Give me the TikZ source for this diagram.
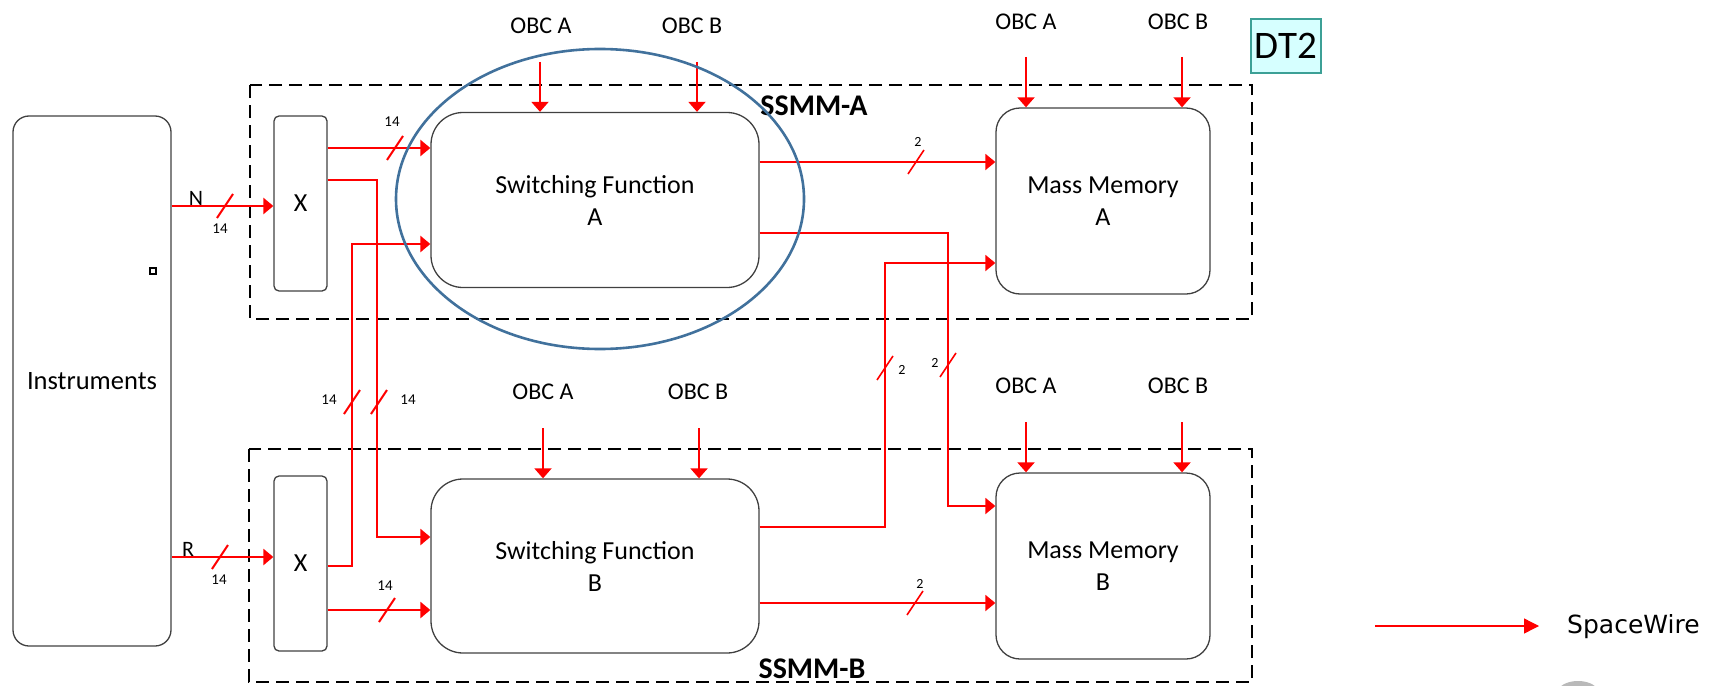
\documentclass[tikz,border=0pt]{standalone}
\usepackage{fontspec}
\setmainfont{Carlito}
\newfontfamily\legendfont{DejaVu Sans}
\usetikzlibrary{arrows.meta,calc}

\definecolor{ringblue}{RGB}{65,113,156}
\definecolor{dtfill}{RGB}{214,255,255}
\definecolor{dtedge}{RGB}{60,160,150}

% small bus-width tick across a wire, centred on (x,y)
\newcommand\busmark[3][tick]{\draw[#1] (#2-8,#3+12) -- (#2+8,#3-12);}

\begin{document}
\begin{tikzpicture}[x=1pt,y=-1pt,
  blk/.style={draw=black!75, line width=1.3pt, align=center, inner sep=0pt,
              font=\fontsize{26}{32}\selectfont},
  wire/.style={red, line width=2.5pt, -{Triangle[length=10pt,width=16pt]}},
  thinwire/.style={red, line width=2pt, -{Triangle[length=10pt,width=16pt]}},
  obcarrow/.style={red, line width=2pt, -{Triangle[length=10pt,width=17pt]}},
  tick/.style={red, line width=2pt},
  thintick/.style={red, line width=1.6pt},
  frame/.style={draw=black, line width=2pt, dash pattern=on 13pt off 7pt},
  wide/.style={font=\fontsize{15}{15}\selectfont, inner sep=0pt},
  narrow/.style={font=\fontsize{14}{14}\selectfont, inner sep=0pt},
  obc/.style={font=\fontsize{24}{24}\selectfont, inner sep=0pt, anchor=base},
  ssmm/.style={font=\bfseries\fontsize{30}{30}\selectfont, inner sep=0pt, anchor=base},
]
\useasboundingbox (0,0) rectangle (1712,685);

% SSMM frames
\draw[frame] (250,85) rectangle (1252,319);
\draw[frame] (249,449) rectangle (1252,682);
\node[ssmm] (ssmmA) at (814,115) {SSMM-A};
\node[ssmm] (ssmmB) at (812,678) {SSMM-B};

% blocks
\node[blk, rounded corners=16pt, minimum width=158pt, minimum height=530pt,
      font=\fontsize{26.5}{30}\selectfont] (inst) at (92,381) {Instruments};
\draw[black, line width=1.5pt] (150,268) rectangle (156,274);

\node[blk, rounded corners=5pt, minimum width=53pt, minimum height=175pt,
      font=\fontsize{26}{26}\selectfont] (xa) at (300.5,203.5) {X};
\node[blk, rounded corners=5pt, minimum width=53pt, minimum height=175pt,
      font=\fontsize{26}{26}\selectfont] (xb) at (300.5,563.5) {X};

\node[blk, rounded corners=32pt, minimum width=328pt, minimum height=175pt] (sfa)
  at (595,200) {Switching Function\\A};
\node[blk, rounded corners=32pt, minimum width=328pt, minimum height=174pt] (sfb)
  at (595,566) {Switching Function\\B};

\node[blk, rounded corners=24pt, minimum width=214pt, minimum height=186pt] (mma)
  at (1103,201) {Mass Memory\\A};
\node[blk, rounded corners=24pt, minimum width=214pt, minimum height=186pt] (mmb)
  at (1103,566) {Mass Memory\\B};

\node[draw=dtedge, fill=dtfill, line width=1.3pt, minimum width=70pt, minimum height=54pt,
      inner sep=0pt, font=\fontsize{39}{39}\selectfont] (dt2) at (1286,46) {DT2};

% instrument links
\draw[wire] (inst.east |- 0,206) -- (xa.west |- 0,206);
\busmark{225}{206}
\node[font=\fontsize{22}{22}\selectfont, inner sep=0pt] at (196,198) {N};
\node[wide] at (220,229) {14};

\draw[wire] (inst.east |- 0,557) -- (xb.west |- 0,557);
\busmark{220}{557}
\node[font=\fontsize{22}{22}\selectfont, inner sep=0pt] at (188,549) {R};
\node[wide] at (219,580) {14};

% cross-strapping to the switching functions
\draw[wire] (xa.east |- 0,148) -- (sfa.west |- 0,148);
\busmark{395}{148}
\node[wide] at (392,122) {14};

\draw[wire] (xa.east |- 0,180) -| (377,537) -- (sfb.west |- 0,537);
\busmark{379}{402}
\node[wide] at (408,400) {14};

\draw[wire] (xb.east |- 0,566) -| (352,244) -- (sfa.west |- 0,244);
\busmark{352}{402}
\node[wide] at (329,400) {14};

\draw[wire] (xb.east |- 0,610) -- (sfb.west |- 0,610);
\busmark{387}{610}
\node[wide] at (385,586) {14};

% switching functions to mass memories
\draw[thinwire] (sfa.east |- 0,162) -- (mma.west |- 0,162);
\busmark[thintick]{916}{162}
\node[narrow] at (918,142) {2};

\draw[thinwire] (sfa.east |- 0,233) -| (948,506) -- (mmb.west |- 0,506);
\busmark[thintick]{948}{365}
\node[narrow] at (935,363) {2};

\draw[thinwire] (sfb.east |- 0,527) -| (885,263) -- (mma.west |- 0,263);
\busmark[thintick]{885}{368}
\node[narrow] at (902,370) {2};

\draw[thinwire] (sfb.east |- 0,603) -- (mmb.west |- 0,603);
\busmark[thintick]{915}{603}
\node[narrow] at (920,584) {2};

% OBC links
\node[obc] (oa1) at (541,34) {OBC A};
\node[obc] (ob1) at (692,34) {OBC B};
\draw[obcarrow] (540,62) -- (sfa.north -| 540,0);
\draw[obcarrow] (697,62) -- (sfa.north -| 697,0);

\node[obc] (oa2) at (1026,30) {OBC A};
\node[obc] (ob2) at (1178,30) {OBC B};
\draw[obcarrow] (1026,57) -- (mma.north -| 1026,0);
\draw[obcarrow] (1182,57) -- (mma.north -| 1182,0);

\node[obc] (oa3) at (543,399) {OBC A};
\node[obc] (ob3) at (698,399) {OBC B};
\draw[obcarrow] (543,428) -- (sfb.north -| 543,0);
\draw[obcarrow] (699,428) -- (sfb.north -| 699,0);

\node[obc] (oa4) at (1026,393) {OBC A};
\node[obc] (ob4) at (1178,393) {OBC B};
\draw[obcarrow] (1026,422) -- (mmb.north -| 1026,0);
\draw[obcarrow] (1182,422) -- (mmb.north -| 1182,0);

% ring round switching function A
\draw[ringblue, line width=2.6pt] (600,199) ellipse [x radius=204, y radius=150];

% legend
\node[anchor=west, inner sep=0pt, font=\legendfont\fontsize{25}{25}\selectfont] (lgt)
  at (1567,627) {SpaceWire};
\coordinate (lgs) at (1375,626);
\draw[red, line width=1.3pt, -{Triangle[length=15pt,width=15pt]}] (lgs) -- ($(lgt.west |- lgs)+(-28,0)$);

% partly visible grey mark at the lower edge
\fill[gray!55] (1578,692) ellipse [x radius=20, y radius=11];
\end{tikzpicture}
\end{document}
